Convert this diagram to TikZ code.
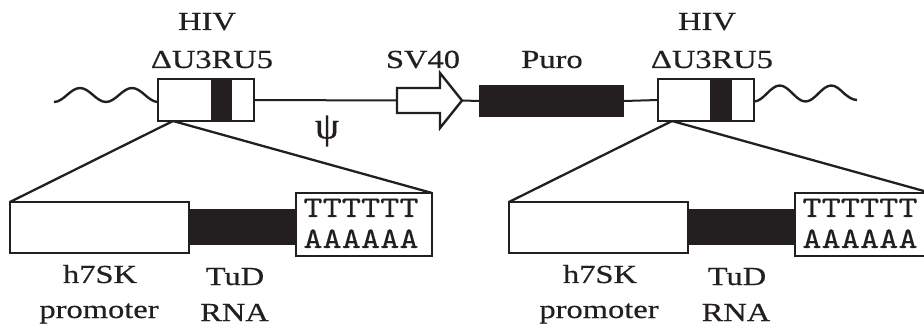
\documentclass[tikz,border=0pt]{standalone}
\usepackage{fontspec}
\setmainfont{Liberation Serif}[FakeStretch=1.25, FakeBold=0.5]
\newfontfamily\polyfont{lmmono10-regular}[Extension=.otf, FakeStretch=1.22, FakeBold=0.3]
\newfontfamily\psifont{Liberation Serif}[FakeBold=0.8]
\definecolor{ink}{RGB}{35,31,32}
\begin{document}
\begin{tikzpicture}[x=1pt,y=-1pt,
  boxline/.style={draw=ink, line width=2.6pt, fill=white, inner sep=0pt, outer sep=0pt},
  blk/.style={fill=ink, draw=none, inner sep=0pt, outer sep=0pt},
  ln/.style={draw=ink, line width=2pt},
  wave/.style={draw=ink, line width=2.4pt},
  lbl/.style={inner sep=0pt, anchor=base, text=ink, font=\fontsize{26}{30}\selectfont},
  polytxt/.style={inner sep=0pt, anchor=base, text=ink, font=\polyfont\fontsize{30}{31}\selectfont}]
\useasboundingbox (0,0) rectangle (924,331);
\clip (0,0) rectangle (924,331);

% ---------- top: provirus ----------
\node[boxline, minimum width=96, minimum height=42] (ltr1) at (206,100) {};
\node[blk, minimum width=21, minimum height=42] (band1) at (221.5,100) {};
\node[blk, minimum width=145, minimum height=32] (puro) at (551.5,101) {};
\node[boxline, minimum width=96, minimum height=42] (ltr2) at (706,100) {};
\node[blk, minimum width=22, minimum height=42] (band2) at (721,100) {};

% SV40 arrow
\coordinate (svtail) at (397,100.5);
\coordinate (svtip) at (462,100.5);
\draw[ln] (ltr1.east) -- (svtail);
\draw[ln] (svtip) -- (puro.west);
\draw[ln] (puro.east) -- (ltr2.west);
\draw[boxline, line width=2.4pt, line join=miter] (397,88) -- (440,88) -- (440,73) -- (svtip) -- (440,128) -- (440,113) -- (397,113) -- cycle;

% wavy ends
\coordinate (w1) at (54,102);
\coordinate (w2) at (857,100);
\draw[wave] (w1) cos (67,95) sin (80,88) cos (93,95) sin (106,102) cos (119,95) sin (132,88) cos (145,95) sin (ltr1.west |- 0,102);
\draw[wave] (ltr2.east |- 0,101.5) cos (766.9,93.5) sin (779.75,85.5) cos (792.6,93.5) sin (805.5,101.5) cos (818.4,93.5) sin (831.25,85.5) cos (844.1,93.5) sin (w2);

% labels top
\node[lbl] (hiv1) at (207,30) {HIV};
\node[lbl] (u3a) at (212,68) {ΔU3RU5};
\node[lbl] (sv40) at (423,68) {SV40};
\node[lbl] (purolbl) at (552,68) {Puro};
\node[lbl] (hiv2) at (707,30) {HIV};
\node[lbl] (u3b) at (712,68) {ΔU3RU5};
\node[inner sep=0pt, text=ink, font=\psifont\fontsize{38}{40}\selectfont] (psi) at (327,131) {ψ};

% ---------- expansion lines ----------
\coordinate (e1) at (173,121);
\coordinate (e2) at (672,121);
\node[boxline, minimum width=179, minimum height=51] (prom1) at (99.5,227.5) {};
\node[blk, minimum width=108, minimum height=36] (tud1) at (243,227) {};
\node[boxline, minimum width=136, minimum height=63] (poly1) at (364,224.5) {};
\node[boxline, minimum width=179, minimum height=51] (prom2) at (598.5,227.5) {};
\node[blk, minimum width=107, minimum height=36] (tud2) at (741.5,227) {};
\node[boxline, minimum width=136, minimum height=63] (poly2) at (863,224.5) {};
\draw[ln, line width=2.3pt] (e1) -- (prom1.north west);
\draw[ln, line width=2.3pt] (e1) -- (poly1.north east);
\draw[ln, line width=2.3pt] (e2) -- (prom2.north west);
\draw[ln, line width=2.3pt] (e2) -- (poly2.north east);

% poly texts
\node[polytxt] (t1) at (361,217) {TTTTTT};
\node[polytxt] (a1) at (361,248) {AAAAAA};
\node[polytxt] (t2) at (860,217) {TTTTTT};
\node[polytxt] (a2) at (860,248) {AAAAAA};

% lower labels
\node[lbl] (h1) at (100,283) {h7SK};
\node[lbl] (p1) at (99,318) {promoter};
\node[lbl] (tu1) at (235,285) {TuD};
\node[lbl] (r1) at (234.5,321) {RNA};
\node[lbl] (h2) at (600,283) {h7SK};
\node[lbl] (p2) at (599,318) {promoter};
\node[lbl] (tu2) at (737,285) {TuD};
\node[lbl] (r2) at (736,321) {RNA};
\end{tikzpicture}
\end{document}
